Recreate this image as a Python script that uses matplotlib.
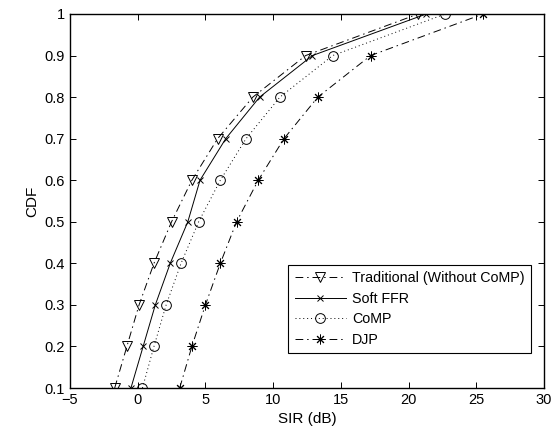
import numpy as np
import matplotlib
matplotlib.use('Agg')
import matplotlib.pyplot as plt

plt.rcParams['font.family'] = ['Liberation Sans', 'DejaVu Sans']

# CDF levels
cdf = [0.1, 0.2, 0.3, 0.4, 0.5, 0.6, 0.7, 0.8, 0.9, 1.0]

# SIR (dB)
sir_traditional = [-1.7, -0.8, 0.1, 1.2, 2.5, 4.0, 5.9, 8.5, 12.4, 20.7]
sir_soft_ffr = [-0.5, 0.4, 1.3, 2.4, 3.7, 4.6, 6.5, 9.0, 12.9, 21.3]
sir_comp = [0.35, 1.2, 2.1, 3.2, 4.5, 6.1, 8.0, 10.5, 14.4, 22.7]
sir_djp = [3.1, 4.0, 5.0, 6.1, 7.3, 8.9, 10.8, 13.3, 17.2, 25.5]

fig = plt.figure(figsize=(5.54, 4.42), dpi=100)
ax = fig.add_axes([70 / 554, 1 - 388 / 442, 474 / 554, 374 / 442])

lw = 0.7
dashdot = (0, (8, 4, 1.5, 4))
ax.plot(sir_traditional, cdf, linestyle=dashdot, color='black', linewidth=lw,
        marker='v', markersize=7.5, markerfacecolor='none', markeredgewidth=0.7,
        label='Traditional (Without CoMP)')
ax.plot(sir_soft_ffr, cdf, linestyle='-', color='black', linewidth=lw,
        marker='x', markersize=5, markeredgewidth=0.7, label='Soft FFR')
ax.plot(sir_comp, cdf, linestyle=(0, (1, 3)), color='black', linewidth=lw,
        marker='o', markersize=7, markerfacecolor='none', markeredgewidth=0.7,
        label='CoMP')
ax.plot(sir_djp, cdf, linestyle=dashdot, color='black', linewidth=lw,
        marker=(8, 2, 0), markersize=7, markeredgewidth=0.7, label='DJP')

ax.set_xlim(-5, 30)
ax.set_ylim(0.1, 1)
ax.set_xticks(np.arange(-5, 31, 5))
ax.set_yticks(np.arange(0.1, 1.01, 0.1))
ax.set_yticklabels(['0.1', '0.2', '0.3', '0.4', '0.5', '0.6', '0.7', '0.8', '0.9', '1'])
ax.set_xticklabels(['\u22125', '0', '5', '10', '15', '20', '25', '30'])
ax.tick_params(direction='in', top=True, right=True, labelsize=10.5, length=4, width=0.7)
for s in ax.spines.values():
    s.set_linewidth(1.0)

ax.set_xlabel('SIR (dB)', fontsize=11)
ax.set_ylabel('CDF', fontsize=11)

leg = ax.legend(loc='lower right', bbox_to_anchor=(531 / 554, 1 - 353 / 442),
                bbox_transform=fig.transFigure, fontsize=10.3, numpoints=1,
                handlelength=3.6, fancybox=False, edgecolor='black',
                framealpha=1, borderpad=0.45, labelspacing=0.45, handletextpad=0.4,
                borderaxespad=0)
leg.get_frame().set_linewidth(0.8)

fig.savefig('out.png', dpi=100)
